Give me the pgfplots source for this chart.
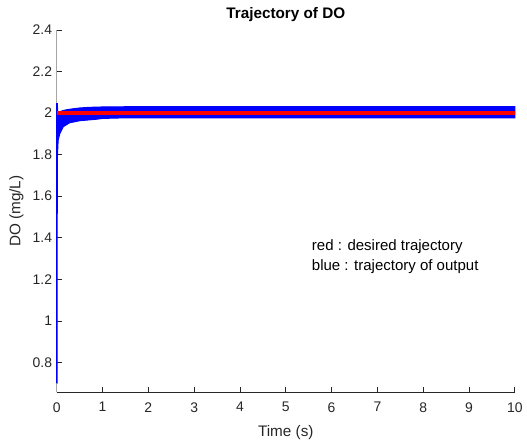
\documentclass[border=0pt]{standalone}
\usepackage{fontspec}
\setmainfont{Liberation Sans}
\usepackage{pgfplots}
\pgfplotsset{compat=1.18}
\definecolor{tickgray}{gray}{0.15}
\definecolor{yaxgray}{gray}{0.65}
\begin{document}
\begin{tikzpicture}
\begin{axis}[
  name=ax, anchor=south west, at={(0,0)},
  scale only axis, width=345pt, height=273pt,
  xmin=0, xmax=10, ymin=0.656, ymax=2.4,
  xtick={0,1,...,10}, ytick={0.8,1,...,2.4},
  axis lines*=left, axis line style={tickgray, line width=0.5pt},
  y axis line style={yaxgray},
  tick align=inside, major tick length=4pt,
  tick style={tickgray, line width=0.5pt},
  ticklabel style={font=\fontsize{10.5}{12}\selectfont, text=tickgray},
  xticklabel style={yshift=-4pt},
  /pgf/number format/assume math mode=true,
  yticklabel style={/pgf/number format/fixed, /pgf/number format/precision=1},
  title={\bfseries Trajectory of DO},
  title style={font=\fontsize{11.5}{13}\selectfont, yshift=-3pt},
  xlabel={Time (s)}, ylabel={DO (mg/L)},
  label style={font=\fontsize{11.5}{13}\selectfont, text=tickgray},
  xlabel style={yshift=-3pt},
  clip=false,
]
% blue output band (envelope of the fast oscillation)
\addplot[draw=blue, fill=blue, line width=0.8pt] coordinates {
  (0,0.70) (0,2.045) (0.012,2.045) (0.02,2.000) (0.05,2.004) (0.1,2.009)
  (0.2,2.015) (0.35,2.020) (0.5,2.024) (0.7,2.027) (1.0,2.029) (1.5,2.030)
  (10,2.030)
  (10,1.977) (1.5,1.977) (1.0,1.974) (0.86,1.970) (0.5,1.963) (0.28,1.953)
  (0.14,1.934) (0.065,1.900) (0.03,1.870) (0.015,1.80) (0.008,1.40)
  (0.005,0.70) (0,0.70)
};
% red desired trajectory
\addplot[red, line width=3.5pt] coordinates {(0,2) (10,2)};
\node[anchor=west, inner sep=0pt, font=\fontsize{11.3}{13}\selectfont] at (axis cs:5.565,1.358) {red : desired trajectory};
\node[anchor=west, inner sep=0pt, font=\fontsize{11.3}{13}\selectfont] at (axis cs:5.565,1.262) {blue : trajectory of output};
\end{axis}
\path (-42.75pt,-35.25pt) rectangle (352.5pt,295.5pt);
\end{tikzpicture}
\end{document}
